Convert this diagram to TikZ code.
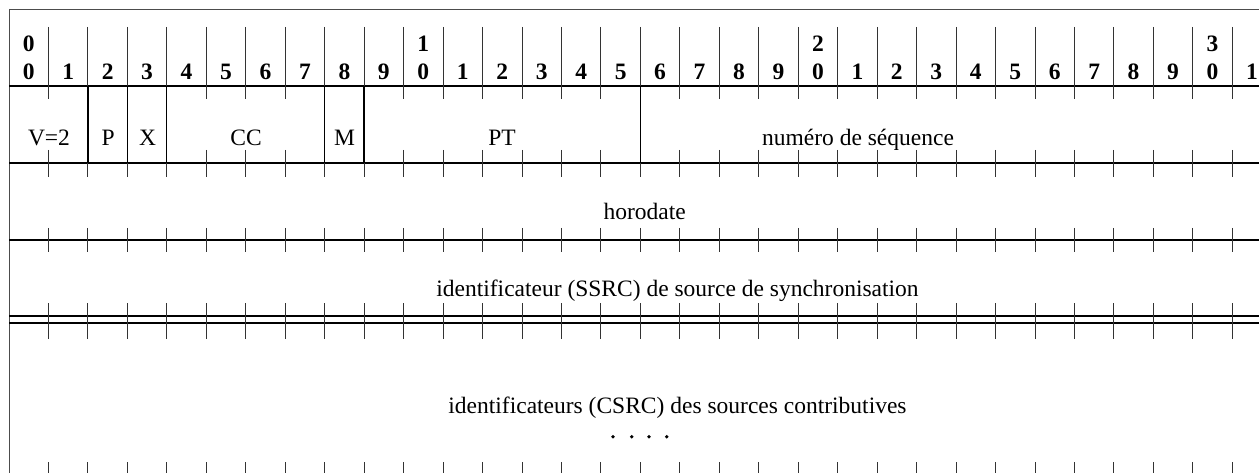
\documentclass[tikz,border=0pt]{standalone}
\usepackage{fontspec}
\setmainfont{Liberation Serif}
\begin{document}
\begin{tikzpicture}[x=1pt,y=-1pt,
  hline/.style={line width=1.3pt,black},
  fieldsep/.style={line width=1.3pt,black},
  tickline/.style={line width=0.9pt,black!80},
  frameline/.style={line width=0.9pt,black!70},
  lbl/.style={font=\fontsize{23.5}{28}\selectfont,anchor=base,inner sep=0pt},
  dig/.style={font=\fontsize{23.5}{28}\selectfont\bfseries,anchor=base,inner sep=0pt}]
\useasboundingbox (0,0) rectangle (1259,473);
\clip (0,0) rectangle (1259,473);
\def\w{39.46}
% frame
\draw[frameline] (9,9) -- (1270,9);
\draw[frameline] (9,9) -- (9,480);
% horizontal lines
\foreach \yy in {86,163,240,316,323} \draw[hline] (9,\yy) -- (1275,\yy);
% vertical lines / ticks
\foreach \k in {1,...,32} {
  \pgfmathsetmacro{\xx}{9+\w*\k}
  \draw[tickline] (\xx,27) -- (\xx,99);
  \draw[tickline] (\xx,150) -- (\xx,177);
  \draw[tickline] (\xx,228) -- (\xx,252);
  \draw[tickline] (\xx,303) -- (\xx,339);
  \draw[tickline] (\xx,462) -- (\xx,480);
}
% field separators in first word
\foreach \k in {2,3,4,8,9,16} {
  \pgfmathsetmacro{\xx}{9+\w*\k}
  \draw[fieldsep] (\xx,86) -- (\xx,163);
}
% bit numbers
\foreach \k in {0,...,31} {
  \pgfmathsetmacro{\xx}{9+\w*(\k+0.5)}
  \pgfmathtruncatemacro{\u}{mod(\k,10)}
  \node[dig] (b\k) at (\xx,80) {\u};
}
\foreach \k/\t in {0/0,10/1,20/2,30/3} {
  \pgfmathsetmacro{\xx}{9+\w*(\k+0.5)}
  \node[dig] (t\k) at (\xx,52) {\t};
}
% field labels
\node[lbl] (v) at (49,145.5) {V=2};
\node[lbl] (p) at (108.2,145.5) {P};
\node[lbl] (x) at (147.5,145.5) {X};
\node[lbl] (cc) at (246,145.5) {CC};
\node[lbl] (m) at (344.5,145.5) {M};
\node[lbl] (pt) at (502,145.5) {PT};
\node[lbl] (seq) at (858,145.5) {numéro de séquence};
\node[lbl] (ts) at (644.7,220) {horodate};
\node[lbl] (ssrc) at (677.5,296) {identificateur (SSRC) de source de synchronisation};
\node[lbl] (csrc) at (677.5,413) {identificateurs (CSRC) des sources contributives};
\foreach \dx in {613,631.7,649,666.7}
  \fill (\dx,436.7) circle (1.9pt);
\end{tikzpicture}
\end{document}
